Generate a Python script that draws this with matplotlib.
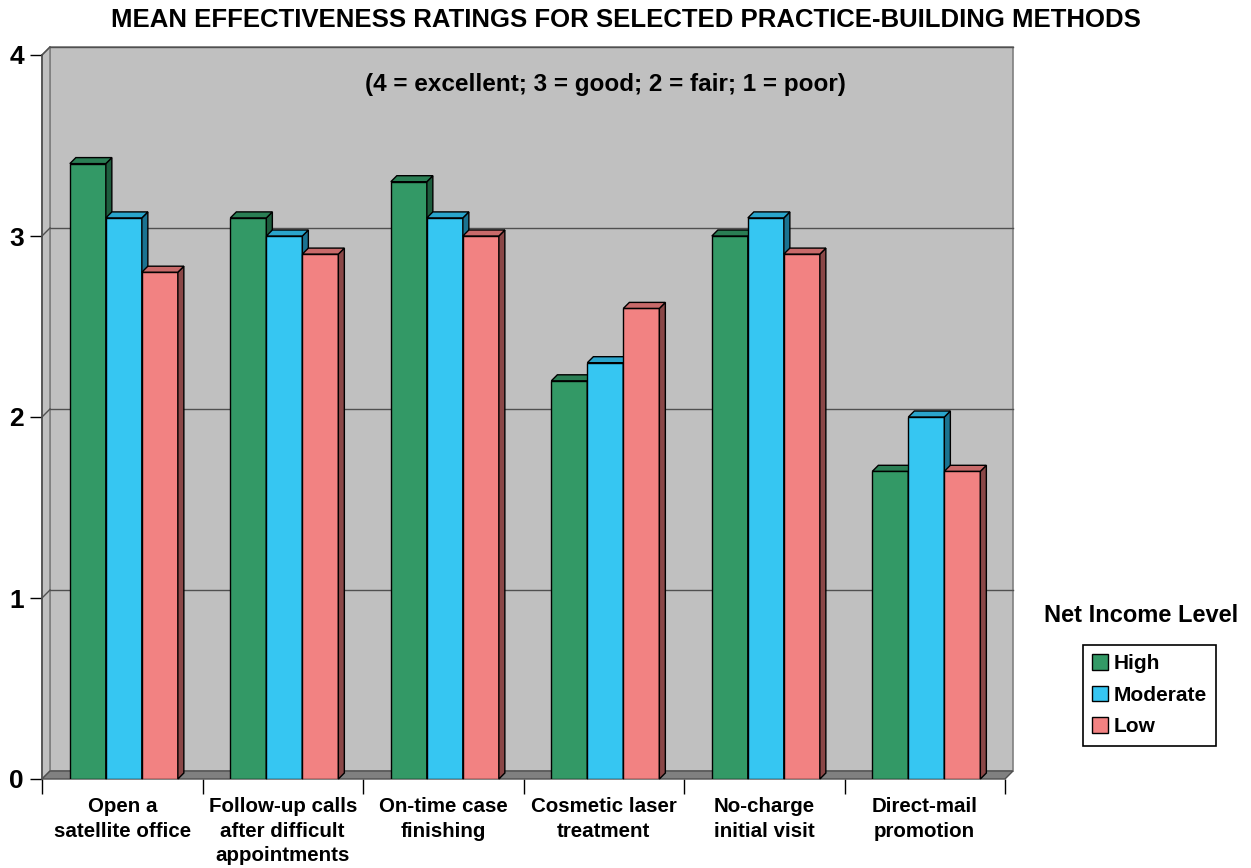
import matplotlib.pyplot as plt
from matplotlib.patches import Polygon, Patch

plt.rcParams['font.family'] = ['Liberation Sans', 'DejaVu Sans']

categories = ['Open a\nsatellite office',
              'Follow-up calls\nafter difficult\nappointments',
              'On-time case\nfinishing',
              'Cosmetic laser\ntreatment',
              'No-charge\ninitial visit',
              'Direct-mail\npromotion']
series_names = ['High', 'Moderate', 'Low']
high = [3.4, 3.1, 3.3, 2.2, 3.0, 1.7]
moderate = [3.1, 3.0, 3.1, 2.3, 3.1, 2.0]
low = [2.8, 2.9, 3.0, 2.6, 2.9, 1.7]
y_ticks = [0, 1, 2, 3, 4]

front_colors = ['#339966', '#36C6F2', '#F28282']
side_colors = ['#1E5E3E', '#1B7391', '#8A4747']
top_colors = ['#2A7E54', '#2AA5CC', '#C86A6A']

fig = plt.figure(figsize=(12.51, 8.68), dpi=100)
ax = fig.add_axes([42 / 1251, 89 / 868, 963 / 1251, 724 / 868])
ax.set_xlim(0, 6)
ax.set_ylim(0, 4)
for s in ax.spines.values():
    s.set_visible(False)

# pixel -> data conversions
px_x = 6 / 963
px_y = 4 / 724
wdx, wdy = 8 * px_x, 8 * px_y     # wall depth
bdx, bdy = 6 * px_x, 6 * px_y     # bar depth
bw = 36 * px_x                    # bar width

# walls and floor
ax.add_patch(Polygon([(wdx, wdy), (6 + wdx, wdy), (6 + wdx, 4 + wdy), (wdx, 4 + wdy)],
                     closed=True, facecolor='#C0C0C0', edgecolor='#808080', lw=1.2,
                     clip_on=False, zorder=0))
ax.add_patch(Polygon([(0, 0), (wdx, wdy), (wdx, 4 + wdy), (0, 4)],
                     closed=True, facecolor='#C0C0C0', edgecolor='#808080', lw=1.2,
                     clip_on=False, zorder=0))
for v in y_ticks[1:]:
    ax.plot([wdx, 6 + wdx], [v + wdy, v + wdy], color='#505050', lw=1, zorder=1, clip_on=False)
    ax.plot([0, wdx], [v, v + wdy], color='#505050', lw=1, zorder=1, clip_on=False)
ax.add_patch(Polygon([(0, 0), (6, 0), (6 + wdx, wdy), (wdx, wdy)],
                     closed=True, facecolor='#808080', edgecolor='#505050', lw=1,
                     clip_on=False, zorder=2))
ax.plot([0, 0], [0, 4], color='#505050', lw=1.2, zorder=2, clip_on=False)

# bars with a small 3D offset
for s, vals in enumerate([high, moderate, low]):
    for i, v in enumerate(vals):
        x0 = i + 0.5 + 0.01 - 1.5 * bw + s * bw
        z = 3 + i * 3 + s
        ax.bar(x0, v, width=bw, align='edge', color=front_colors[s],
               edgecolor='black', lw=1, zorder=z)
        ax.add_patch(Polygon([(x0 + bw, 0), (x0 + bw + bdx, bdy),
                              (x0 + bw + bdx, v + bdy), (x0 + bw, v)],
                             closed=True, facecolor=side_colors[s], edgecolor='black',
                             lw=1, zorder=z, clip_on=False))
        ax.add_patch(Polygon([(x0, v), (x0 + bw, v), (x0 + bw + bdx, v + bdy),
                              (x0 + bdx, v + bdy)],
                             closed=True, facecolor=top_colors[s], edgecolor='black',
                             lw=1, zorder=z, clip_on=False))

# ticks
ax.set_yticks(y_ticks)
ax.set_yticklabels([str(t) for t in y_ticks], fontsize=19, fontweight='bold')
ax.tick_params(axis='y', length=9, width=1, color='black', pad=4)
ax.set_xticks(range(7))
ax.set_xticklabels([])
ax.tick_params(axis='x', which='major', length=11, width=1, color='black')
ax.set_xticks([i + 0.5 for i in range(6)], minor=True)
ax.set_xticklabels(categories, minor=True, fontsize=14.8, fontweight='bold', linespacing=1.38)
ax.tick_params(axis='x', which='minor', length=0, pad=13)

fig.text(0.5, 1 - 20 / 868, 'MEAN EFFECTIVENESS RATINGS FOR SELECTED PRACTICE-BUILDING METHODS',
         ha='center', va='center', fontsize=18.5, fontweight='bold')
ax.text(605 / 1251, 1 - 85 / 868, '(4 = excellent; 3 = good; 2 = fair; 1 = poor)',
        transform=fig.transFigure, ha='center', va='center', fontsize=17.5, fontweight='bold')

# legend
fig.text(1141 / 1251, 1 - 616 / 868, 'Net Income Level', ha='center', va='center',
         fontsize=17, fontweight='bold')
handles = [Patch(facecolor=c, edgecolor='black', lw=1) for c in front_colors]
leg = fig.legend(handles, series_names, loc='upper left',
                 bbox_to_anchor=(1083 / 1251, 1 - 645 / 868), borderaxespad=0,
                 prop={'size': 15, 'weight': 'bold'}, handlelength=0.75, handleheight=0.75,
                 handletextpad=0.25, labelspacing=0.6, borderpad=0.45,
                 fancybox=False, edgecolor='black', framealpha=1)
leg.get_frame().set_linewidth(1.2)

fig.savefig('out.png', dpi=100)
